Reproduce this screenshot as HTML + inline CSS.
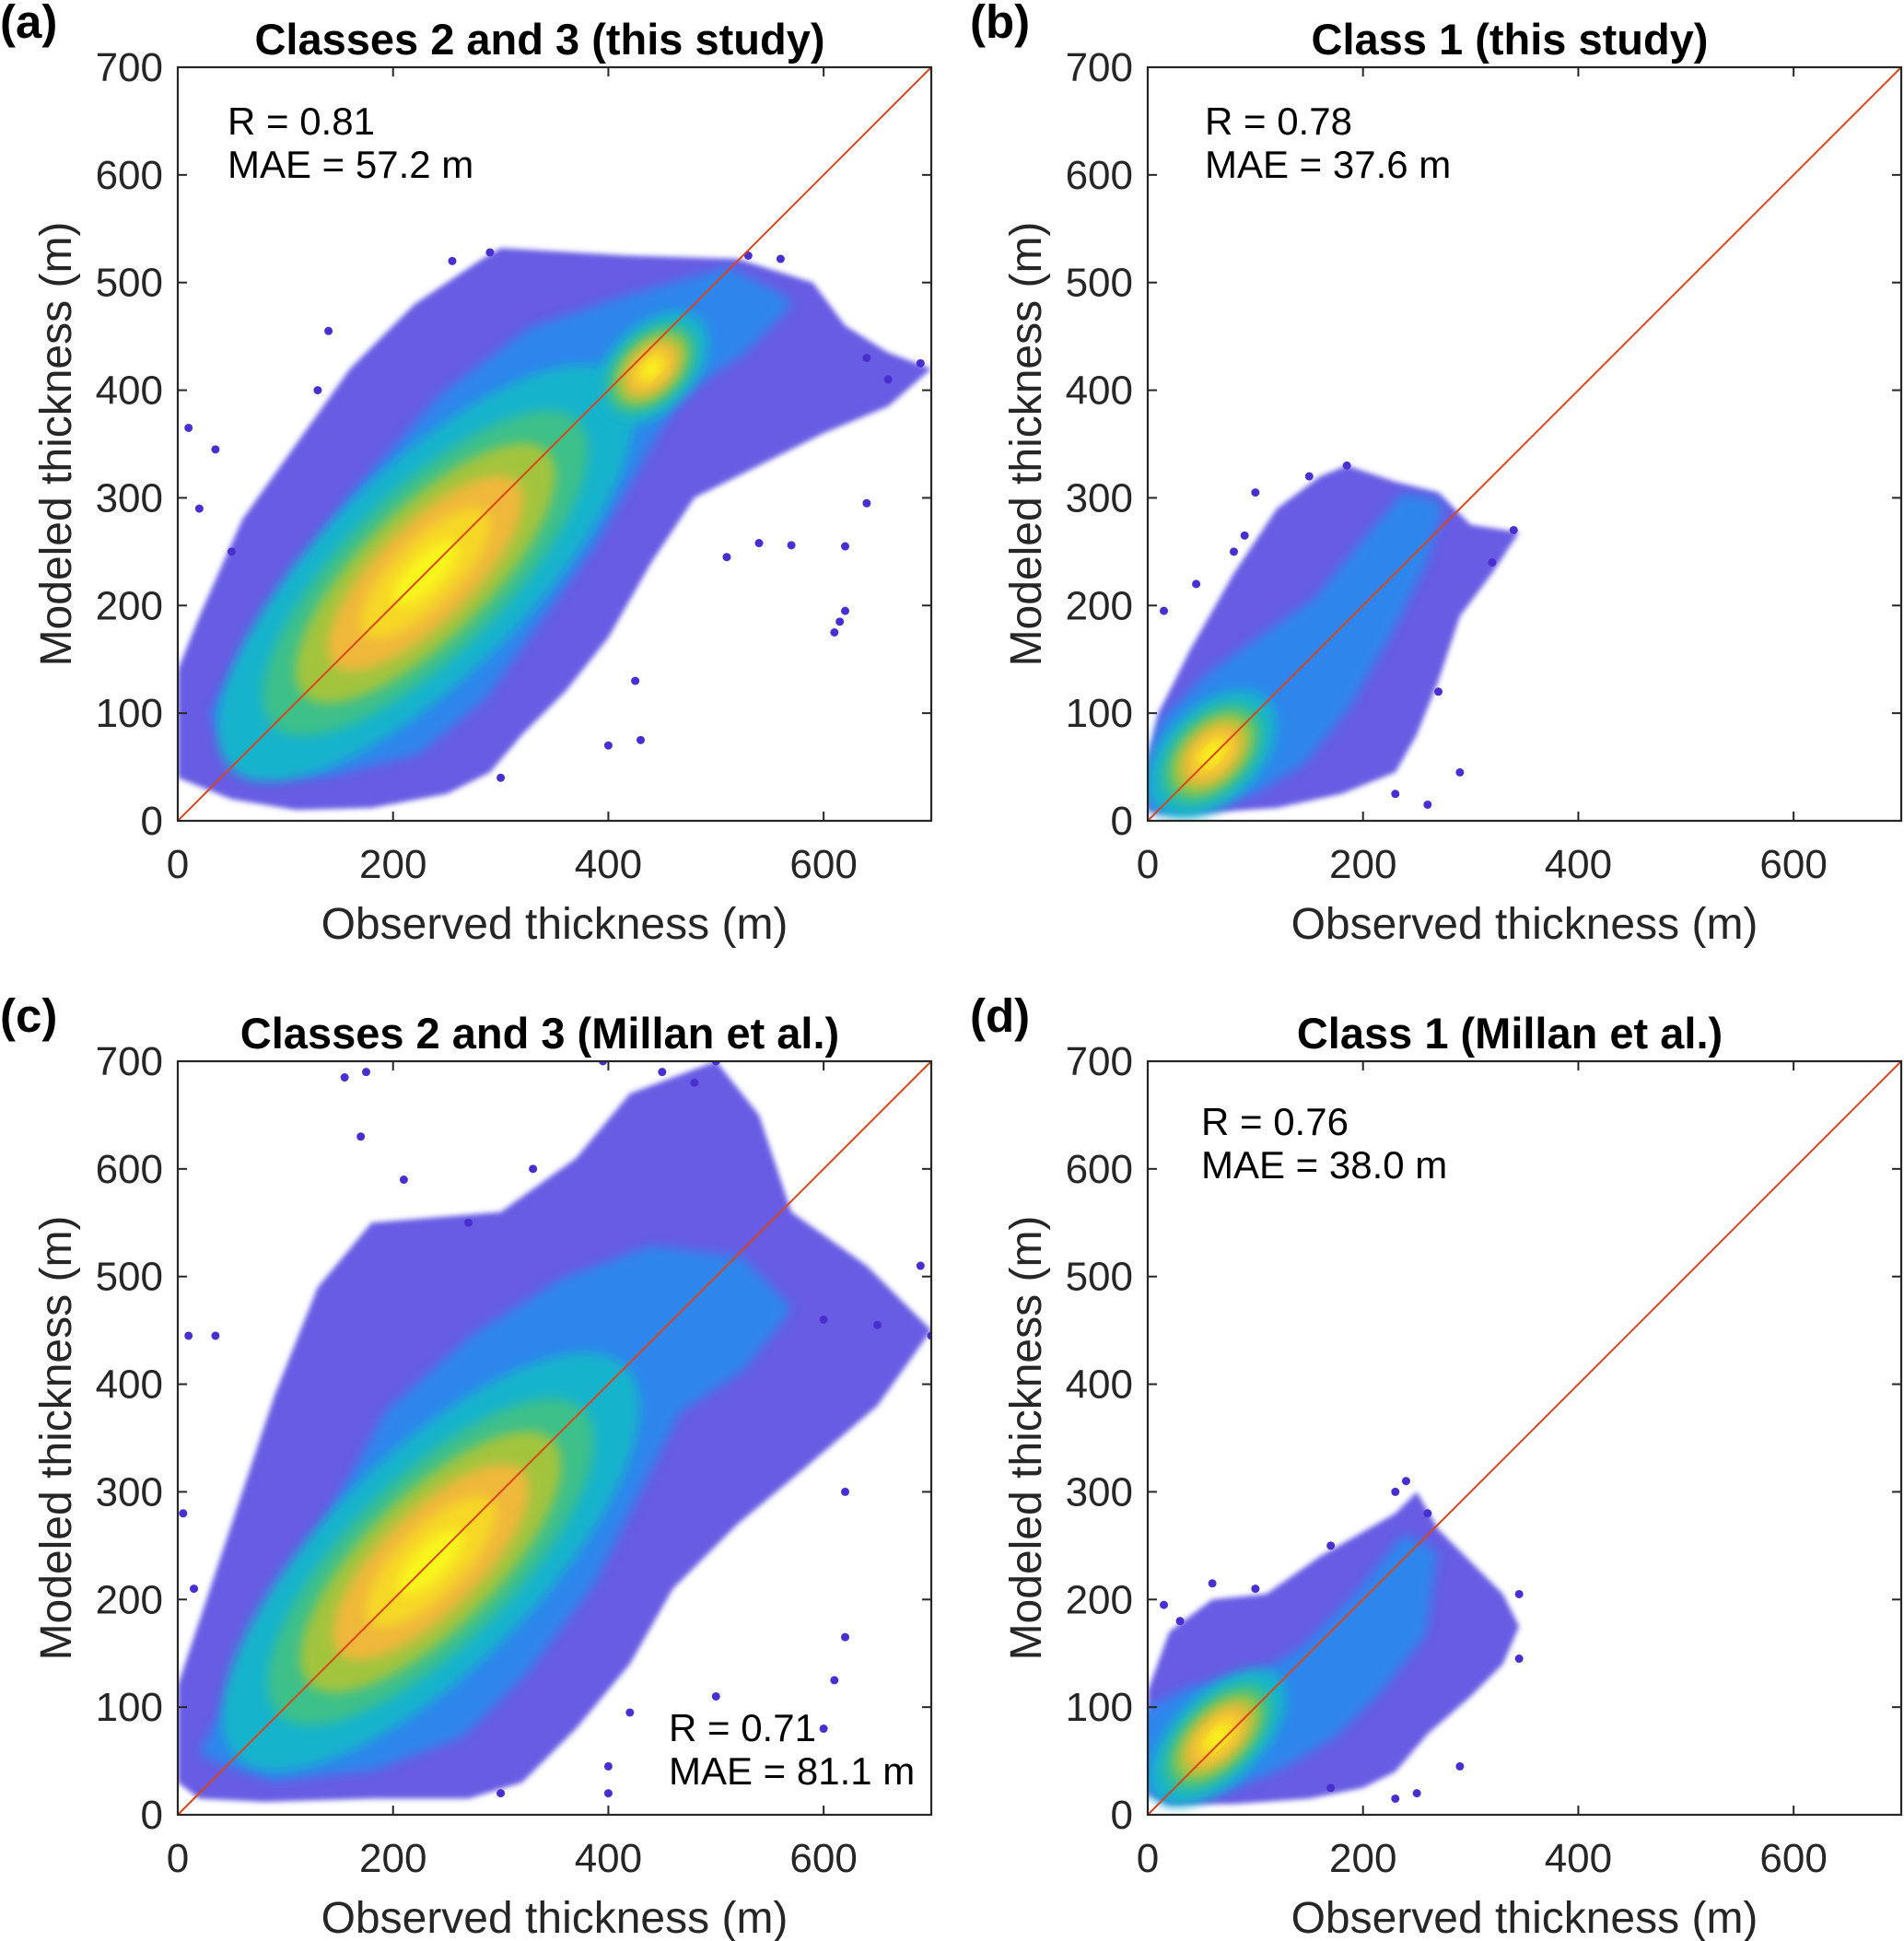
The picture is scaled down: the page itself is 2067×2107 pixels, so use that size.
<!DOCTYPE html>
<html><head><meta charset="utf-8"><style>
html,body{margin:0;padding:0;background:#fff;}
svg{display:block;font-family:"Liberation Sans",Arial,sans-serif;}
</style></head><body>
<svg id="fig" width="2067" height="2107" viewBox="0 0 2067 2107" xmlns="http://www.w3.org/2000/svg">
<defs>
<filter id="soft" x="-20%" y="-20%" width="140%" height="140%"><feGaussianBlur stdDeviation="6"/></filter>
<filter id="soft2" x="-20%" y="-20%" width="140%" height="140%"><feGaussianBlur stdDeviation="3"/></filter>
</defs>
</svg>
<script>
// axis ticks shared by all panels
const xTicks = [0, 200, 400, 600];
const yTicks = [0, 100, 200, 300, 400, 500, 600, 700];
const axisMax = 700;

// panel metadata
const panelLetters = ["(a)", "(b)", "(c)", "(d)"];
const panelTitles = ["Classes 2 and 3 (this study)", "Class 1 (this study)", "Classes 2 and 3 (Millan et al.)", "Class 1 (Millan et al.)"];
const panelR = ["R = 0.81", "R = 0.78", "R = 0.71", "R = 0.76"];
const panelMAE = ["MAE = 57.2 m", "MAE = 37.6 m", "MAE = 81.1 m", "MAE = 38.0 m"];

// outer (sparse) envelope of scatter (observed, modeled) per panel
const envA = [[0,140],[20,190],[60,280],[110,350],[160,420],[220,480],[280,520],[300,532],[420,525],[520,522],[590,500],[620,460],[660,435],[700,420],[660,385],[600,360],[540,330],[480,300],[440,240],[400,170],[360,120],[320,80],[290,45],[250,25],[180,12],[110,10],[50,20],[0,40]];
const envB = [[0,55],[10,100],[40,160],[80,230],[120,290],[160,320],[185,330],[230,315],[270,305],[300,275],[345,268],[320,230],[290,190],[270,130],[250,80],[230,45],[180,25],[120,12],[60,8],[10,8],[0,10]];
const envC = [[0,120],[40,240],[90,390],[130,490],[180,550],[300,560],[370,610],[420,670],[500,700],[540,650],[570,560],[640,510],[700,450],[650,380],[580,320],[520,270],[460,210],[420,140],[370,80],[320,30],[270,15],[180,15],[80,12],[20,15],[0,30]];
const envD = [[0,20],[0,115],[20,170],[60,200],[110,205],[160,240],[230,280],[250,300],[270,265],[330,205],[345,175],[330,140],[300,110],[260,75],[230,40],[200,25],[150,15],[80,10],[20,10]];
// inner (cyan) envelope per panel
const inA = [[40,100],[100,200],[170,300],[250,390],[330,450],[420,480],[510,505],[560,480],[520,440],[460,400],[420,330],[380,260],[330,190],[280,120],[220,70],[140,50],[70,50]];
const inB = [[0,30],[20,90],[60,130],[110,165],[160,200],[210,260],[240,295],[265,290],[250,240],[220,180],[180,110],[140,60],[100,35],[50,20],[10,15]];
const inC = [[30,60],[90,160],[140,260],[200,370],[280,440],[360,490],[440,520],[520,510],[560,470],[520,420],[460,380],[420,300],[380,220],[320,140],[260,80],[180,50],[90,40]];
const inD = [[0,30],[0,90],[40,110],[100,120],[150,150],[200,200],[240,250],[260,240],[250,170],[210,120],[170,80],[120,50],[70,30],[20,20]];
// density cores: [obs, modeled, semi-axis along diagonal, semi-axis across (data units)]
const coreA = [[230,230,160,60],[440,420,40,25]];
const coreB = [[60,62,45,28]];
const coreC = [[235,235,160,62]];
const coreD = [[65,72,50,26]];
// scattered outlier points (observed, modeled)
const outA = [[10,365],[35,345],[20,290],[50,250],[140,455],[130,400],[255,520],[290,528],[530,525],[560,522],[640,430],[660,410],[690,425],[640,295],[610,175],[615,185],[620,195],[510,245],[400,70],[430,75],[425,130],[540,258],[570,256],[620,255],[300,40]];
const outB = [[15,195],[45,220],[80,250],[90,265],[100,305],[150,320],[185,330],[290,45],[260,15],[230,25],[270,120],[340,270],[320,240]];
const outC = [[10,445],[35,445],[15,210],[5,280],[155,685],[175,690],[170,630],[395,700],[500,700],[650,455],[700,445],[690,510],[600,460],[620,300],[610,125],[620,165],[500,110],[400,20],[400,45],[420,95],[300,20],[600,80],[210,590],[270,550],[330,600],[450,690],[480,680]];
const outD = [[15,195],[30,180],[60,215],[100,210],[170,250],[230,300],[240,310],[260,280],[345,205],[345,145],[290,45],[250,20],[230,15],[170,25]];

const envs = [envA, envB, envC, envD];
const inners = [inA, inB, inC, inD];
const cores = [coreA, coreB, coreC, coreD];
const outs = [outA, outB, outC, outD];

const NS = "http://www.w3.org/2000/svg";
const svg = document.getElementById("fig");
const PW = 818, PH = 818;
const origins = [[193,73],[1246,73],[193,1152],[1246,1152]];
const statPos = [[247,146,"start"],[1308,146,"start"],[726,1890,"start"],[1304,1232,"start"]];

function el(tag, attrs, parent){
  const e = document.createElementNS(NS, tag);
  for (const k in attrs) e.setAttribute(k, attrs[k]);
  (parent||svg).appendChild(e);
  return e;
}

origins.forEach((o, p) => {
  const x0 = o[0], y0 = o[1];
  const sx = v => x0 + v / axisMax * PW;
  const sy = v => y0 + PH - v / axisMax * PH;
  const g = el("g", {});
  
  
  const clipId = "clip" + p;
  const cp = el("clipPath", {id: clipId}, g);
  el("rect", {x: x0, y: y0, width: PW, height: PH}, cp);
  const data = el("g", {"clip-path": "url(#" + clipId + ")"}, g);
  
  
  const poly = arr => arr.map(d => sx(d[0]).toFixed(1) + "," + sy(d[1]).toFixed(1)).join(" ");
  const env = el("polygon", {points: poly(envs[p]), fill: "#4c3ede", "fill-opacity": 0.85, "stroke-linejoin": "round", filter: "url(#soft2)"}, data);
  
  
  const inn = el("polygon", {points: poly(inners[p]), fill: "#2f86ec", "stroke-linejoin": "round", stroke: "#2f86ec", "stroke-width": 20, filter: "url(#soft)"}, data);
  
  
  const layers = [[1.6,"#19b3cc"],[1.25,"#3dc08a"],[1.0,"#a2c43c"],[0.75,"#f0b83a"],[0.5,"#f7d728"],[0.25,"#f9f61a"]];
  cores[p].forEach(c => {
    const cx = sx(c[0]), cy = sy(c[1]);
    const ra = c[2] / axisMax * PW, rb = c[3] / axisMax * PW;
    layers.forEach(L => {
      const e = el("ellipse", {cx: cx, cy: cy, rx: ra * L[0], ry: rb * L[0], fill: L[1], transform: "rotate(-45 " + cx + " " + cy + ")", filter: "url(#soft)"}, data);
      
      
    });
  });
  outs[p].forEach(d => {
    const c = el("circle", {cx: sx(d[0]), cy: sy(d[1]), r: 4.5, fill: "#4a2fd0"}, data);
    
    
  });
  const ln = el("line", {x1: sx(0), y1: sy(0), x2: sx(700), y2: sy(700), stroke: "#d9461a", "stroke-width": 2}, g);
  
  
  const box = el("rect", {x: x0, y: y0, width: PW, height: PH, fill: "none", stroke: "#262626", "stroke-width": 2.2}, g);
  
  
  xTicks.forEach(t => {
    el("line", {x1: sx(t), x2: sx(t), y1: y0 + PH, y2: y0 + PH - 10, stroke: "#262626", "stroke-width": 2}, g);
    el("line", {x1: sx(t), x2: sx(t), y1: y0, y2: y0 + 10, stroke: "#262626", "stroke-width": 2}, g);
    const tx = el("text", {x: sx(t), y: y0 + PH + 62, "font-size": 44, "text-anchor": "middle", fill: "#262626"}, g);
    tx.textContent = t;
    
    
  });
  yTicks.forEach(t => {
    el("line", {x1: x0, x2: x0 + 10, y1: sy(t), y2: sy(t), stroke: "#262626", "stroke-width": 2}, g);
    el("line", {x1: x0 + PW, x2: x0 + PW - 10, y1: sy(t), y2: sy(t), stroke: "#262626", "stroke-width": 2}, g);
    const ty = el("text", {x: x0 - 16, y: sy(t) + 15, "font-size": 44, "text-anchor": "end", fill: "#262626"}, g);
    ty.textContent = t;
    
    
  });
  const xl = el("text", {x: x0 + PW / 2, y: y0 + PH + 128, "font-size": 48, "text-anchor": "middle", fill: "#262626"}, g);
  xl.textContent = "Observed thickness (m)";
  
  
  const yl = el("text", {x: 0, y: 0, "font-size": 48, "text-anchor": "middle", fill: "#262626", transform: "translate(" + (x0 - 116) + "," + (y0 + PH / 2) + ") rotate(-90)"}, g);
  yl.textContent = "Modeled thickness (m)";
  
  
  const ti = el("text", {x: x0 + PW / 2 - 16, y: y0 - 14, "font-size": 47, "font-weight": "bold", "text-anchor": "middle", fill: "#000"}, g);
  ti.textContent = panelTitles[p];
  
  
  const lt = el("text", {x: x0 - 193, y: y0 - 32, "font-size": 51, "font-weight": "bold", fill: "#000"}, g);
  lt.textContent = panelLetters[p];
  
  
  const sp = statPos[p];
  const r = el("text", {x: sp[0], y: sp[1], "font-size": 42, "text-anchor": "start", fill: "#000"}, g);
  r.textContent = panelR[p];
  
  
  const m = el("text", {x: sp[0], y: sp[1] + 47, "font-size": 42, "text-anchor": "start", fill: "#000"}, g);
  m.textContent = panelMAE[p];
  
  
});
</script>
</body></html>
